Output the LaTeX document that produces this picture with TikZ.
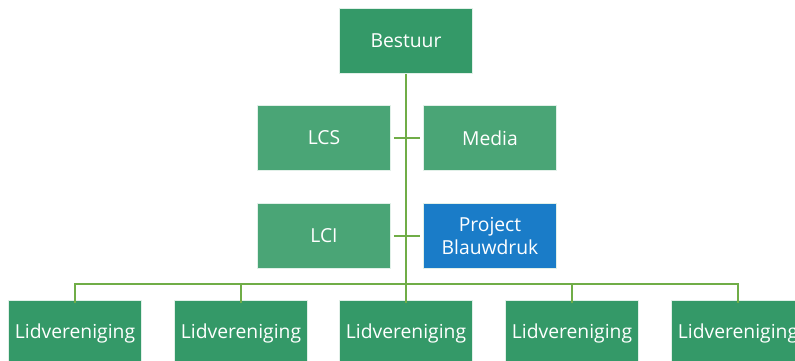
\documentclass[tikz,border=0pt]{standalone}
\usepackage{fontspec}
\setmainfont{Open Sans}
\definecolor{dgreen}{RGB}{52,153,104}
\definecolor{lgreen}{RGB}{74,165,118}
\definecolor{pblue}{RGB}{26,124,200}
\definecolor{linec}{RGB}{112,173,71}
\begin{document}
\begin{tikzpicture}[x=1pt,y=-1pt,
  box/.style={draw=white!85!dgreen, line width=0.6pt, minimum width=133pt, minimum height=65pt, inner sep=0pt, text=white, align=center, font=\fontsize{19.3}{23}\selectfont},
  dbox/.style={box, fill=dgreen},
  lbox/.style={box, fill=lgreen},
  bbox/.style={box, fill=pblue},
  conn/.style={draw=linec, line width=2.6pt}]
\useasboundingbox (0,0) rectangle (795,360);
\begin{scope}
\clip (0,0) rectangle (795,360);
\node[dbox] (best) at (406,41) {Bestuur};
\node[lbox] (lcs) at (324,138) {LCS};
\node[lbox] (media) at (490,138) {Media};
\node[lbox] (lci) at (324,236) {LCI};
\node[bbox] (proj) at (490,236) {Project\\Blauwdruk};
\foreach \i/\x in {1/75,2/241,3/406,4/572,5/738}
  \node[dbox] (lid\i) at (\x,333) {Lidvereniging};
\coordinate (bus) at (406,284);
\draw[conn] (best.south) -- (bus);
\draw[conn] ([xshift=3pt]lcs.east) -- ([xshift=-3pt]media.west);
\draw[conn] ([xshift=3pt]lci.east) -- ([xshift=-3pt]proj.west);
\draw[conn] ([yshift=-3pt]lid1.north) |- (bus) -| ([yshift=-3pt]lid5.north);
\draw[conn] ([yshift=-3pt]lid2.north) -- (lid2.north |- bus);
\draw[conn] ([yshift=-3pt]lid3.north) -- (bus);
\draw[conn] ([yshift=-3pt]lid4.north) -- (lid4.north |- bus);
\end{scope}
\end{tikzpicture}
\end{document}
